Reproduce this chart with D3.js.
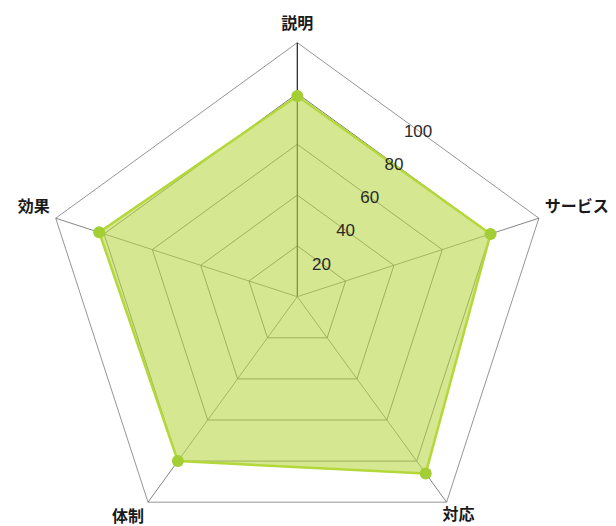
<!DOCTYPE html>
<html>
<head>
<meta charset="utf-8">
<script src="https://cdn.jsdelivr.net/npm/d3@7"></script>
<style>
  html, body { margin: 0; padding: 0; background: #fff; }
  svg { display: block; }
</style>
</head>
<body>
<div id="container"></div>
<script>
// axis names, clockwise from the top
const categories = ["説明", "サービス", "対応", "体制", "効果"];
const values = [79, 80, 86, 80, 82];
const ticks = [20, 40, 60, 80, 100];

const width = 616;
const height = 526;
const cx = 297.3, cy = 296.7;
const outer = 254;

const svg = d3.select("#container")
    .append("svg")
    .attr("width", width)
    .attr("height", height);

const g = svg.append("g").attr("transform", `translate(${cx},${cy})`);

const r = d3.scaleLinear().domain([0, 100]).range([0, outer]);
const angle = d3.scaleLinear().domain([0, categories.length]).range([0, 2 * Math.PI]);

const pt = (i, v) => [Math.sin(angle(i)) * r(v), -Math.cos(angle(i)) * r(v)];

const ring = d3.lineRadial()
    .angle((d, i) => angle(i))
    .radius(d => r(d))
    .curve(d3.curveLinearClosed);

// grid rings
g.append("g")
    .selectAll("path")
    .data(ticks)
    .join("path")
    .attr("d", t => ring(categories.map(() => t)))
    .attr("fill", "none")
    .attr("stroke", t => t === 100 ? "#7a7a7a" : "#555")
    .attr("stroke-width", 0.8);

// spokes
g.append("g")
    .selectAll("line")
    .data(categories)
    .join("line")
    .attr("x1", 0).attr("y1", 0)
    .attr("x2", (d, i) => pt(i, 100)[0])
    .attr("y2", (d, i) => pt(i, 100)[1])
    .attr("stroke", (d, i) => i === 0 ? "#1e1e2a" : "#666")
    .attr("stroke-width", (d, i) => i === 0 ? 1.2 : 0.8);

// data area
g.append("path")
    .attr("d", ring(values))
    .attr("fill", "rgb(185,215,70)")
    .attr("fill-opacity", 0.6)
    .attr("stroke", "#b4d83a")
    .attr("stroke-width", 2.5)
    .attr("stroke-linejoin", "round");

g.append("g")
    .selectAll("circle")
    .data(values)
    .join("circle")
    .attr("cx", (d, i) => pt(i, d)[0])
    .attr("cy", (d, i) => pt(i, d)[1])
    .attr("r", 6)
    .attr("fill", "#a3cf35");

// scale labels along the bisector between the first two axes
const mid = Math.PI / categories.length;
g.append("g")
    .selectAll("text")
    .data(ticks)
    .join("text")
    .attr("x", t => Math.sin(mid) * r(t) * Math.cos(mid))
    .attr("y", t => -Math.cos(mid) * r(t) * Math.cos(mid))
    .attr("dy", "0.36em")
    .attr("text-anchor", "middle")
    .attr("font-family", "'Liberation Sans', Arial, sans-serif")
    .attr("font-size", 17)
    .attr("fill", "#2a2a2a")
    .text(t => t);

// category labels
const labelPos = [
    { dx: 0, dy: -14, anchor: "middle" },
    { dx: 6, dy: -6, anchor: "start" },
    { dx: -4, dy: 18, anchor: "start" },
    { dx: -4, dy: 20, anchor: "end" },
    { dx: -6, dy: -6, anchor: "end" }
];

g.append("g")
    .selectAll("text")
    .data(categories)
    .join("text")
    .attr("x", (d, i) => pt(i, 100)[0] + labelPos[i].dx)
    .attr("y", (d, i) => pt(i, 100)[1] + labelPos[i].dy)
    .attr("text-anchor", (d, i) => labelPos[i].anchor)
    .attr("font-family", "'Noto Sans CJK JP', sans-serif")
    .attr("font-weight", "bold")
    .attr("font-size", 16)
    .attr("fill", "#1a1a1a")
    .text(d => d);
</script>
</body>
</html>
